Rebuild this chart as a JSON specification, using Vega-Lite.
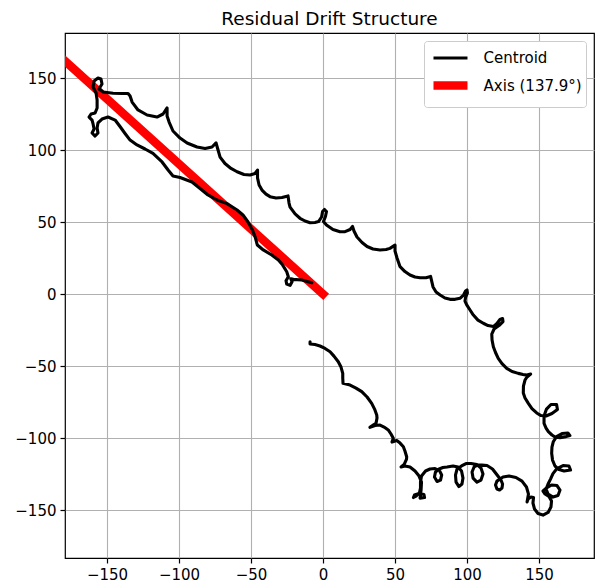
{
"$schema":"https://vega.github.io/schema/vega-lite/v6.json",
"width":529,"height":525,
"autosize":{"type":"none"},
"padding":{"left":65,"top":33,"right":1,"bottom":28},
"background":"white",
"title":{"text":"Residual Drift Structure","fontSize":18.5,"font":"DejaVu Sans","fontWeight":"normal","color":"black","anchor":"middle","frame":"group","offset":5},
"config":{
"view":{"stroke":"black","strokeWidth":1.2},
"axis":{"domain":false,"grid":true,"gridColor":"#b0b0b0","gridWidth":1.1,"tickColor":"black","tickSize":5,"tickWidth":1.2,"labelFont":"DejaVu Sans","labelFontSize":15,"labelColor":"black","labelPadding":4,"title":null,"labelFlush":false},
"legend":{"orient":"top-right","offset":8,"title":null,"symbolType":"M-0.91,0H2.18","symbolSize":484,"labelFontSize":15,"labelFont":"DejaVu Sans","labelColor":"black","labelOffset":24.6,"padding":4,"rowPadding":2,"fillColor":"white","strokeColor":"#cccccc","cornerRadius":3,"labelLimit":0}
},
"datasets":{
"ax":[{"i":1,"x":0,"y":0,"s":"A"},{"i":2,"x":-181,"y":163.5,"s":"A"}],
"cen":[
{"i":1,"x":-7.8,"y":7.8,"s":"C"},{"i":2,"x":-14.8,"y":9.7,"s":"C"},{"i":3,"x":-20.6,"y":10.2,"s":"C"},{"i":4,"x":-22.4,"y":10.6,"s":"C"},{"i":5,"x":-21.5,"y":8.5,"s":"C"},{"i":6,"x":-22.9,"y":6.0,"s":"C"},{"i":7,"x":-25.2,"y":6.9,"s":"C"},{"i":8,"x":-25.7,"y":9.2,"s":"C"},{"i":9,"x":-24.1,"y":12.0,"s":"C"},{"i":10,"x":-25.2,"y":15.5,"s":"C"},
{"i":11,"x":-28.0,"y":20.1,"s":"C"},{"i":12,"x":-31.0,"y":23.6,"s":"C"},{"i":13,"x":-35.6,"y":27.1,"s":"C"},{"i":14,"x":-41.5,"y":30.6,"s":"C"},{"i":15,"x":-45.6,"y":34.0,"s":"C"},{"i":16,"x":-47.2,"y":39.8,"s":"C"},{"i":17,"x":-49.0,"y":44.4,"s":"C"},{"i":18,"x":-52.1,"y":50.0,"s":"C"},{"i":19,"x":-55.6,"y":54.9,"s":"C"},{"i":20,"x":-59.7,"y":58.3,"s":"C"},
{"i":21,"x":-66.7,"y":62.8,"s":"C"},{"i":22,"x":-73.6,"y":65.3,"s":"C"},{"i":23,"x":-79.9,"y":68.8,"s":"C"},{"i":24,"x":-85.4,"y":73.3,"s":"C"},{"i":25,"x":-91.0,"y":77.8,"s":"C"},{"i":26,"x":-99.3,"y":80.9,"s":"C"},{"i":27,"x":-104.2,"y":81.9,"s":"C"},{"i":28,"x":-107.6,"y":86.1,"s":"C"},{"i":29,"x":-111.8,"y":91.7,"s":"C"},{"i":30,"x":-118.1,"y":97.6,"s":"C"},
{"i":31,"x":-123.6,"y":100.7,"s":"C"},{"i":32,"x":-129.2,"y":103.5,"s":"C"},{"i":33,"x":-134.0,"y":106.9,"s":"C"},{"i":34,"x":-137.5,"y":111.5,"s":"C"},{"i":35,"x":-141.0,"y":116.3,"s":"C"},{"i":36,"x":-144.4,"y":120.8,"s":"C"},{"i":37,"x":-149.3,"y":122.9,"s":"C"},{"i":38,"x":-153.5,"y":121.5,"s":"C"},{"i":39,"x":-156.3,"y":118.8,"s":"C"},{"i":40,"x":-156.9,"y":115.3,"s":"C"},
{"i":41,"x":-156.3,"y":111.8,"s":"C"},{"i":42,"x":-158.3,"y":109.7,"s":"C"},{"i":43,"x":-160.4,"y":111.8,"s":"C"},{"i":44,"x":-159.0,"y":114.6,"s":"C"},{"i":45,"x":-159.7,"y":118.1,"s":"C"},{"i":46,"x":-160.4,"y":120.8,"s":"C"},{"i":47,"x":-162.5,"y":122.9,"s":"C"},{"i":48,"x":-161.1,"y":125.0,"s":"C"},{"i":49,"x":-158.3,"y":125.7,"s":"C"},{"i":50,"x":-156.9,"y":129.2,"s":"C"},
{"i":51,"x":-156.9,"y":134.7,"s":"C"},{"i":52,"x":-157.6,"y":139.6,"s":"C"},{"i":53,"x":-159.7,"y":143.8,"s":"C"},{"i":54,"x":-159.0,"y":147.9,"s":"C"},{"i":55,"x":-156.3,"y":150.0,"s":"C"},{"i":56,"x":-154.2,"y":149.3,"s":"C"},{"i":57,"x":-153.5,"y":145.8,"s":"C"},{"i":58,"x":-155.6,"y":142.4,"s":"C"},{"i":59,"x":-152.8,"y":140.3,"s":"C"},{"i":60,"x":-145.8,"y":139.4,"s":"C"},
{"i":61,"x":-139.6,"y":139.2,"s":"C"},{"i":62,"x":-135.4,"y":139.2,"s":"C"},{"i":63,"x":-134.0,"y":137.5,"s":"C"},{"i":64,"x":-132.6,"y":133.3,"s":"C"},{"i":65,"x":-128.5,"y":127.8,"s":"C"},{"i":66,"x":-122.2,"y":124.3,"s":"C"},{"i":67,"x":-115.3,"y":122.9,"s":"C"},{"i":68,"x":-111.1,"y":125.0,"s":"C"},{"i":69,"x":-108.3,"y":129.2,"s":"C"},{"i":70,"x":-108.3,"y":123.6,"s":"C"},
{"i":71,"x":-106.9,"y":119.4,"s":"C"},{"i":72,"x":-104.2,"y":113.2,"s":"C"},{"i":73,"x":-99.3,"y":108.3,"s":"C"},{"i":74,"x":-94.4,"y":104.9,"s":"C"},{"i":75,"x":-87.5,"y":102.1,"s":"C"},{"i":76,"x":-81.9,"y":101.0,"s":"C"},{"i":77,"x":-77.1,"y":102.1,"s":"C"},{"i":78,"x":-74.3,"y":104.9,"s":"C"},{"i":79,"x":-72.9,"y":100.0,"s":"C"},{"i":80,"x":-71.5,"y":95.1,"s":"C"},
{"i":81,"x":-68.1,"y":90.6,"s":"C"},{"i":82,"x":-63.9,"y":87.2,"s":"C"},{"i":83,"x":-59.7,"y":84.9,"s":"C"},{"i":84,"x":-54.9,"y":83.0,"s":"C"},{"i":85,"x":-50.7,"y":82.6,"s":"C"},{"i":86,"x":-47.2,"y":83.7,"s":"C"},{"i":87,"x":-45.5,"y":86.1,"s":"C"},{"i":88,"x":-45.5,"y":80.6,"s":"C"},{"i":89,"x":-44.4,"y":75.7,"s":"C"},{"i":90,"x":-42.4,"y":72.2,"s":"C"},
{"i":91,"x":-39.6,"y":69.4,"s":"C"},{"i":92,"x":-36.8,"y":67.6,"s":"C"},{"i":93,"x":-32.6,"y":66.7,"s":"C"},{"i":94,"x":-28.5,"y":67.0,"s":"C"},{"i":95,"x":-24.3,"y":68.1,"s":"C"},{"i":96,"x":-23.6,"y":63.2,"s":"C"},{"i":97,"x":-22.9,"y":60.4,"s":"C"},{"i":98,"x":-19.4,"y":55.6,"s":"C"},{"i":99,"x":-16.0,"y":52.6,"s":"C"},{"i":100,"x":-12.5,"y":50.7,"s":"C"},
{"i":101,"x":-9.0,"y":49.5,"s":"C"},{"i":102,"x":-5.6,"y":49.7,"s":"C"},{"i":103,"x":-3.1,"y":50.3,"s":"C"},{"i":104,"x":-1.0,"y":53.5,"s":"C"},{"i":105,"x":-0.3,"y":57.3,"s":"C"},{"i":106,"x":1.0,"y":58.7,"s":"C"},{"i":107,"x":2.4,"y":57.3,"s":"C"},{"i":108,"x":1.7,"y":53.8,"s":"C"},{"i":109,"x":0.3,"y":50.3,"s":"C"},{"i":110,"x":2.4,"y":47.9,"s":"C"},
{"i":111,"x":6.9,"y":44.8,"s":"C"},{"i":112,"x":11.8,"y":43.2,"s":"C"},{"i":113,"x":15.3,"y":43.3,"s":"C"},{"i":114,"x":18.8,"y":44.8,"s":"C"},{"i":115,"x":20.5,"y":46.9,"s":"C"},{"i":116,"x":21.5,"y":43.8,"s":"C"},{"i":117,"x":23.6,"y":39.6,"s":"C"},{"i":118,"x":27.1,"y":35.8,"s":"C"},{"i":119,"x":30.6,"y":33.0,"s":"C"},{"i":120,"x":34.7,"y":31.3,"s":"C"},
{"i":121,"x":39.6,"y":30.6,"s":"C"},{"i":122,"x":43.8,"y":30.9,"s":"C"},{"i":123,"x":46.5,"y":31.7,"s":"C"},{"i":124,"x":50.0,"y":34.0,"s":"C"},{"i":125,"x":50.0,"y":29.9,"s":"C"},{"i":126,"x":51.4,"y":25.0,"s":"C"},{"i":127,"x":53.5,"y":19.0,"s":"C"},{"i":128,"x":56.9,"y":15.6,"s":"C"},{"i":129,"x":60.4,"y":13.2,"s":"C"},{"i":130,"x":63.9,"y":11.8,"s":"C"},
{"i":131,"x":67.4,"y":11.3,"s":"C"},{"i":132,"x":71.5,"y":11.3,"s":"C"},{"i":133,"x":74.7,"y":12.2,"s":"C"},{"i":134,"x":76.4,"y":4.9,"s":"C"},{"i":135,"x":78.5,"y":1.4,"s":"C"},{"i":136,"x":81.3,"y":-0.7,"s":"C"},{"i":137,"x":84.7,"y":-2.8,"s":"C"},{"i":138,"x":88.2,"y":-3.7,"s":"C"},{"i":139,"x":91.7,"y":-3.7,"s":"C"},{"i":140,"x":95.1,"y":-3.0,"s":"C"},
{"i":141,"x":97.6,"y":-0.7,"s":"C"},{"i":142,"x":99.0,"y":2.1,"s":"C"},{"i":143,"x":100.0,"y":2.8,"s":"C"},{"i":144,"x":100.3,"y":0.7,"s":"C"},{"i":145,"x":99.0,"y":-2.4,"s":"C"},{"i":146,"x":98.6,"y":-4.9,"s":"C"},{"i":147,"x":99.8,"y":-7.6,"s":"C"},{"i":148,"x":102.1,"y":-11.1,"s":"C"},{"i":149,"x":104.4,"y":-14.6,"s":"C"},{"i":150,"x":107.6,"y":-18.1,"s":"C"},
{"i":151,"x":111.3,"y":-20.3,"s":"C"},{"i":152,"x":114.6,"y":-21.9,"s":"C"},{"i":153,"x":118.3,"y":-22.6,"s":"C"},{"i":154,"x":120.8,"y":-20.5,"s":"C"},{"i":155,"x":122.9,"y":-17.7,"s":"C"},{"i":156,"x":124.7,"y":-17.0,"s":"C"},{"i":157,"x":125.0,"y":-19.1,"s":"C"},{"i":158,"x":122.2,"y":-21.9,"s":"C"},{"i":159,"x":118.8,"y":-24.3,"s":"C"},{"i":160,"x":117.2,"y":-27.8,"s":"C"},
{"i":161,"x":117.4,"y":-31.9,"s":"C"},{"i":162,"x":118.3,"y":-36.6,"s":"C"},{"i":163,"x":119.8,"y":-40.6,"s":"C"},{"i":164,"x":121.7,"y":-44.7,"s":"C"},{"i":165,"x":124.3,"y":-48.3,"s":"C"},{"i":166,"x":127.6,"y":-51.6,"s":"C"},{"i":167,"x":131.3,"y":-53.8,"s":"C"},{"i":168,"x":135.6,"y":-55.1,"s":"C"},{"i":169,"x":138.9,"y":-55.9,"s":"C"},{"i":170,"x":141.5,"y":-56.3,"s":"C"},
{"i":171,"x":144.2,"y":-55.6,"s":"C"},{"i":172,"x":141.7,"y":-57.6,"s":"C"},{"i":173,"x":140.3,"y":-59.7,"s":"C"},{"i":174,"x":139.2,"y":-63.9,"s":"C"},{"i":175,"x":139.1,"y":-68.8,"s":"C"},{"i":176,"x":140.3,"y":-72.2,"s":"C"},{"i":177,"x":142.6,"y":-75.9,"s":"C"},{"i":178,"x":145.1,"y":-79.5,"s":"C"},{"i":179,"x":148.4,"y":-82.6,"s":"C"},{"i":180,"x":151.4,"y":-84.4,"s":"C"},
{"i":181,"x":154.9,"y":-84.7,"s":"C"},{"i":182,"x":159.0,"y":-83.0,"s":"C"},{"i":183,"x":162.8,"y":-80.2,"s":"C"},{"i":184,"x":162.2,"y":-76.7,"s":"C"},{"i":185,"x":158.3,"y":-76.7,"s":"C"},{"i":186,"x":155.2,"y":-79.9,"s":"C"},{"i":187,"x":153.5,"y":-84.7,"s":"C"},{"i":188,"x":153.5,"y":-89.8,"s":"C"},{"i":189,"x":154.9,"y":-93.1,"s":"C"},{"i":190,"x":156.5,"y":-95.6,"s":"C"},
{"i":191,"x":159.0,"y":-97.9,"s":"C"},{"i":192,"x":161.1,"y":-99.3,"s":"C"},{"i":193,"x":164.6,"y":-99.7,"s":"C"},{"i":194,"x":168.8,"y":-99.0,"s":"C"},{"i":195,"x":171.5,"y":-98.3,"s":"C"},{"i":196,"x":170.1,"y":-96.5,"s":"C"},{"i":197,"x":166.0,"y":-96.9,"s":"C"},{"i":198,"x":162.2,"y":-99.0,"s":"C"},{"i":199,"x":159.9,"y":-102.6,"s":"C"},{"i":200,"x":159.0,"y":-106.3,"s":"C"},
{"i":201,"x":158.8,"y":-110.6,"s":"C"},{"i":202,"x":159.4,"y":-115.3,"s":"C"},{"i":203,"x":161.1,"y":-119.4,"s":"C"},{"i":204,"x":163.9,"y":-121.9,"s":"C"},{"i":205,"x":167.4,"y":-122.9,"s":"C"},{"i":206,"x":171.9,"y":-122.2,"s":"C"},{"i":207,"x":170.8,"y":-119.4,"s":"C"},{"i":208,"x":166.7,"y":-119.1,"s":"C"},{"i":209,"x":162.5,"y":-121.2,"s":"C"},{"i":210,"x":159.7,"y":-124.7,"s":"C"},
{"i":211,"x":158.0,"y":-128.5,"s":"C"},{"i":212,"x":156.3,"y":-131.9,"s":"C"},{"i":213,"x":154.9,"y":-135.4,"s":"C"},{"i":214,"x":156.3,"y":-138.9,"s":"C"},{"i":215,"x":159.7,"y":-141.0,"s":"C"},{"i":216,"x":163.2,"y":-139.9,"s":"C"},{"i":217,"x":164.6,"y":-136.1,"s":"C"},{"i":218,"x":162.5,"y":-133.0,"s":"C"},{"i":219,"x":158.7,"y":-132.6,"s":"C"},{"i":220,"x":155.2,"y":-134.7,"s":"C"},
{"i":221,"x":152.8,"y":-136.8,"s":"C"},{"i":222,"x":154.2,"y":-138.9,"s":"C"},{"i":223,"x":156.9,"y":-140.6,"s":"C"},{"i":224,"x":158.7,"y":-143.8,"s":"C"},{"i":225,"x":158.3,"y":-147.9,"s":"C"},{"i":226,"x":156.3,"y":-151.7,"s":"C"},{"i":227,"x":152.8,"y":-153.5,"s":"C"},{"i":228,"x":149.3,"y":-152.4,"s":"C"},{"i":229,"x":146.9,"y":-149.3,"s":"C"},{"i":230,"x":145.8,"y":-145.1,"s":"C"},
{"i":231,"x":146.2,"y":-141.3,"s":"C"},{"i":232,"x":144.4,"y":-141.0,"s":"C"},{"i":233,"x":142.4,"y":-142.4,"s":"C"},{"i":234,"x":141.7,"y":-144.4,"s":"C"},{"i":235,"x":142.7,"y":-138.9,"s":"C"},{"i":236,"x":141.3,"y":-134.0,"s":"C"},{"i":237,"x":138.2,"y":-129.9,"s":"C"},{"i":238,"x":134.0,"y":-127.4,"s":"C"},{"i":239,"x":129.2,"y":-126.4,"s":"C"},{"i":240,"x":125.0,"y":-127.1,"s":"C"},
{"i":241,"x":122.9,"y":-128.5,"s":"C"},{"i":242,"x":120.8,"y":-129.9,"s":"C"},{"i":243,"x":119.8,"y":-132.6,"s":"C"},{"i":244,"x":120.8,"y":-135.4,"s":"C"},{"i":245,"x":122.6,"y":-136.1,"s":"C"},{"i":246,"x":124.3,"y":-134.7,"s":"C"},{"i":247,"x":124.7,"y":-131.9,"s":"C"},{"i":248,"x":123.6,"y":-129.2,"s":"C"},{"i":249,"x":121.2,"y":-126.0,"s":"C"},{"i":250,"x":117.7,"y":-121.5,"s":"C"},
{"i":251,"x":113.9,"y":-119.1,"s":"C"},{"i":252,"x":110.4,"y":-118.8,"s":"C"},{"i":253,"x":107.3,"y":-118.8,"s":"C"},{"i":254,"x":104.9,"y":-120.1,"s":"C"},{"i":255,"x":103.5,"y":-123.6,"s":"C"},{"i":256,"x":104.2,"y":-127.8,"s":"C"},{"i":257,"x":106.9,"y":-130.6,"s":"C"},{"i":258,"x":109.7,"y":-129.2,"s":"C"},{"i":259,"x":111.1,"y":-125.0,"s":"C"},{"i":260,"x":109.7,"y":-120.8,"s":"C"},
{"i":261,"x":106.9,"y":-118.4,"s":"C"},{"i":262,"x":102.8,"y":-117.7,"s":"C"},{"i":263,"x":99.3,"y":-117.7,"s":"C"},{"i":264,"x":96.2,"y":-119.4,"s":"C"},{"i":265,"x":93.1,"y":-121.5,"s":"C"},{"i":266,"x":92.0,"y":-125.7,"s":"C"},{"i":267,"x":92.4,"y":-130.6,"s":"C"},{"i":268,"x":94.4,"y":-133.7,"s":"C"},{"i":269,"x":96.5,"y":-131.9,"s":"C"},{"i":270,"x":97.2,"y":-127.8,"s":"C"},
{"i":271,"x":96.2,"y":-122.9,"s":"C"},{"i":272,"x":93.8,"y":-120.1,"s":"C"},{"i":273,"x":90.3,"y":-119.4,"s":"C"},{"i":274,"x":86.1,"y":-120.1,"s":"C"},{"i":275,"x":83.3,"y":-120.5,"s":"C"},{"i":276,"x":80.6,"y":-121.5,"s":"C"},{"i":277,"x":78.1,"y":-123.6,"s":"C"},{"i":278,"x":77.4,"y":-127.1,"s":"C"},{"i":279,"x":79.2,"y":-130.2,"s":"C"},{"i":280,"x":81.6,"y":-129.2,"s":"C"},
{"i":281,"x":82.4,"y":-125.7,"s":"C"},{"i":282,"x":80.9,"y":-122.6,"s":"C"},{"i":283,"x":77.8,"y":-121.2,"s":"C"},{"i":284,"x":74.3,"y":-121.5,"s":"C"},{"i":285,"x":71.2,"y":-122.9,"s":"C"},{"i":286,"x":68.4,"y":-126.4,"s":"C"},{"i":287,"x":67.7,"y":-130.6,"s":"C"},{"i":288,"x":67.7,"y":-134.7,"s":"C"},{"i":289,"x":67.0,"y":-137.8,"s":"C"},{"i":290,"x":64.6,"y":-140.3,"s":"C"},
{"i":291,"x":62.8,"y":-141.3,"s":"C"},{"i":292,"x":63.5,"y":-139.6,"s":"C"},{"i":293,"x":66.7,"y":-138.5,"s":"C"},{"i":294,"x":70.1,"y":-139.2,"s":"C"},{"i":295,"x":70.5,"y":-141.3,"s":"C"},{"i":296,"x":67.4,"y":-141.7,"s":"C"},{"i":297,"x":68.1,"y":-136.1,"s":"C"},{"i":298,"x":68.4,"y":-130.6,"s":"C"},{"i":299,"x":66.7,"y":-126.4,"s":"C"},{"i":300,"x":63.9,"y":-122.9,"s":"C"},
{"i":301,"x":60.4,"y":-120.1,"s":"C"},{"i":302,"x":56.9,"y":-119.4,"s":"C"},{"i":303,"x":54.2,"y":-120.1,"s":"C"},{"i":304,"x":56.3,"y":-118.4,"s":"C"},{"i":305,"x":58.0,"y":-114.6,"s":"C"},{"i":306,"x":58.1,"y":-113.0,"s":"C"},{"i":307,"x":56.9,"y":-109.0,"s":"C"},{"i":308,"x":55.8,"y":-106.0,"s":"C"},{"i":309,"x":53.5,"y":-103.5,"s":"C"},{"i":310,"x":51.2,"y":-101.7,"s":"C"},
{"i":311,"x":47.9,"y":-102.8,"s":"C"},{"i":312,"x":48.8,"y":-100.2,"s":"C"},{"i":313,"x":47.2,"y":-97.2,"s":"C"},{"i":314,"x":45.3,"y":-94.4,"s":"C"},{"i":315,"x":42.4,"y":-92.4,"s":"C"},{"i":316,"x":39.6,"y":-91.0,"s":"C"},{"i":317,"x":36.1,"y":-91.3,"s":"C"},{"i":318,"x":32.6,"y":-92.6,"s":"C"},{"i":319,"x":35.4,"y":-90.6,"s":"C"},{"i":320,"x":36.8,"y":-89.8,"s":"C"},
{"i":321,"x":37.5,"y":-86.1,"s":"C"},{"i":322,"x":37.3,"y":-84.0,"s":"C"},{"i":323,"x":35.8,"y":-79.9,"s":"C"},{"i":324,"x":33.8,"y":-75.9,"s":"C"},{"i":325,"x":30.6,"y":-71.5,"s":"C"},{"i":326,"x":26.9,"y":-67.8,"s":"C"},{"i":327,"x":22.9,"y":-65.3,"s":"C"},{"i":328,"x":18.8,"y":-63.2,"s":"C"},{"i":329,"x":13.9,"y":-62.0,"s":"C"},{"i":330,"x":13.7,"y":-58.3,"s":"C"},
{"i":331,"x":13.7,"y":-55.1,"s":"C"},{"i":332,"x":12.5,"y":-50.7,"s":"C"},{"i":333,"x":10.6,"y":-47.0,"s":"C"},{"i":334,"x":7.6,"y":-43.1,"s":"C"},{"i":335,"x":4.9,"y":-40.1,"s":"C"},{"i":336,"x":1.4,"y":-37.8,"s":"C"},{"i":337,"x":-2.1,"y":-36.1,"s":"C"},{"i":338,"x":-5.6,"y":-35.1,"s":"C"},{"i":339,"x":-9.0,"y":-34.7,"s":"C"},{"i":340,"x":-9.0,"y":-33.1,"s":"C"}
]},
"encoding":{
"x":{"field":"x","type":"quantitative","scale":{"domain":[-179.2,188.2],"nice":false,"zero":false},"axis":{"values":[-150,-100,-50,0,50,100,150]}},
"y":{"field":"y","type":"quantitative","scale":{"domain":[-183.3,181.25],"nice":false,"zero":false},"axis":{"values":[-150,-100,-50,0,50,100,150]}},
"order":{"field":"i","type":"quantitative"},
"color":{"field":"s","type":"ordinal","scale":{"type":"ordinal","domain":["C","A"],"range":["black","red"]},"legend":{"labelExpr":"datum.label == 'C' ? 'Centroid' : 'Axis (137.9°)'"}},
"strokeWidth":{"field":"s","type":"ordinal","scale":{"type":"ordinal","domain":["C","A"],"range":[3.1,8.5]},"legend":{"labelExpr":"datum.label == 'C' ? 'Centroid' : 'Axis (137.9°)'"}}
},
"layer":[
{"data":{"name":"ax"},"mark":{"type":"line","clip":true,"strokeCap":"square"}},
{"data":{"name":"cen"},"mark":{"type":"line","clip":true,"strokeJoin":"round","strokeCap":"round"}}
]
}
